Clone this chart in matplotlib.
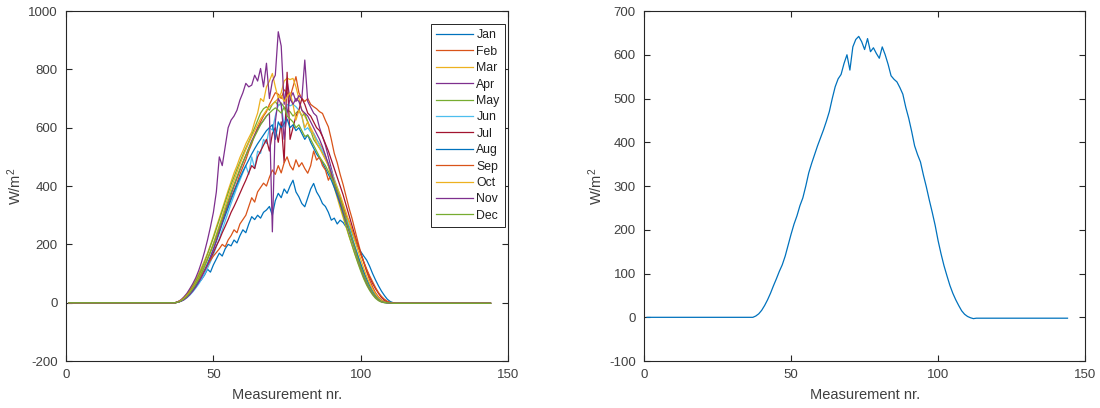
import numpy as np
import matplotlib
matplotlib.use("Agg")
import matplotlib.pyplot as plt

# Measurement index (10-minute samples over one day)
measurement = np.arange(1, 145)
day_start, day_end = 37, 112          # first / last daylight sample
months = ["Jan", "Feb", "Mar", "Apr", "May", "Jun",
          "Jul", "Aug", "Sep", "Oct", "Nov", "Dec"]

# Daylight irradiance per month, samples 37..112 (W/m^2)
jan = [0, 2, 6, 12, 20, 30, 42, 55, 68, 80,
       95, 115, 105, 130, 150, 170, 160, 185, 200, 195,
       215, 205, 230, 250, 240, 270, 295, 285, 300, 290,
       310, 318, 330, 300, 350, 375, 360, 390, 375, 400,
       420, 380, 363, 340, 329, 360, 390, 409, 380, 363,
       340, 330, 310, 283, 290, 270, 283, 275, 260, 262,
       240, 215, 192, 175, 160, 146, 125, 100, 78, 58,
       40, 25, 12, 4, 0, -2]
feb = [0, 3, 8, 16, 26, 40, 55, 72, 90, 110,
       130, 152, 175, 200, 225, 252, 280, 305, 332, 360,
       385, 410, 440, 465, 490, 520, 545, 575, 600, 620,
       640, 655, 680, 700, 720, 715, 700, 730, 720, 705,
       740, 775, 720, 700, 690, 700, 680, 672, 665, 655,
       649, 625, 603, 560, 512, 480, 440, 405, 365, 325,
       290, 250, 210, 172, 138, 106, 78, 54, 34, 20,
       10, 4, 1, -1, -2, -2]
mar = [0, 3, 9, 18, 30, 45, 62, 80, 100, 122,
       145, 170, 198, 228, 260, 290, 322, 355, 385, 415,
       445, 470, 498, 520, 545, 565, 585, 620, 650, 700,
       690, 740, 760, 786, 740, 700, 720, 760, 770, 765,
       769, 740, 700, 660, 640, 620, 600, 580, 560, 545,
       530, 505, 470, 430, 395, 360, 325, 292, 260, 228,
       198, 168, 140, 112, 86, 64, 45, 30, 18, 9,
       4, 1, 0, -1, -2, -2]
apr = [0, 4, 10, 20, 32, 48, 65, 85, 110, 140,
       175, 215, 260, 310, 380, 500, 470, 535, 600, 626,
       640, 660, 695, 720, 752, 740, 746, 780, 760, 803,
       740, 821, 700, 760, 780, 929, 880, 680, 760, 700,
       720, 690, 710, 700, 832, 690, 670, 650, 640, 600,
       570, 540, 500, 460, 420, 380, 345, 310, 280, 250,
       220, 190, 160, 130, 100, 75, 55, 38, 24, 14,
       7, 3, 0, -1, -2, -2]
may = [0, 3, 8, 16, 27, 40, 56, 74, 94, 116,
       140, 166, 194, 223, 253, 284, 315, 346, 376, 405,
       432, 458, 483, 507, 530, 552, 575, 600, 625, 650,
       665, 672, 660, 680, 690, 675, 685, 670, 660, 655,
       640, 650, 660, 640, 649, 620, 590, 560, 545, 530,
       515, 495, 470, 440, 405, 370, 335, 300, 265, 230,
       198, 166, 136, 108, 82, 60, 42, 27, 15, 7,
       2, 0, -1, -2, -2, -2]
jun = [0, 2, 5, 10, 17, 26, 37, 50, 64, 80,
       98, 118, 140, 165, 192, 220, 250, 280, 310, 340,
       368, 395, 420, 445, 470, 440, 500, 460, 520, 512,
       560, 546, 600, 592, 640, 678, 680, 603, 680, 675,
       680, 672, 660, 640, 592, 600, 585, 581, 560, 540,
       520, 500, 478, 452, 425, 396, 365, 332, 298, 262,
       228, 195, 162, 132, 104, 78, 56, 38, 23, 12,
       5, 1, 0, -1, -2, -2]
jul = [0, 2, 6, 12, 22, 34, 48, 62, 78, 95,
       112, 130, 150, 172, 195, 215, 240, 262, 285, 310,
       330, 352, 375, 398, 420, 445, 470, 460, 500, 520,
       540, 560, 520, 580, 600, 550, 620, 480, 790, 560,
       600, 640, 660, 700, 680, 650, 640, 620, 600, 590,
       570, 545, 520, 490, 460, 430, 400, 370, 335, 300,
       265, 230, 198, 168, 140, 112, 88, 66, 48, 32,
       18, 9, 3, 0, -1, -2]
aug = [0, 2, 6, 12, 20, 31, 44, 58, 74, 92,
       112, 134, 158, 184, 212, 240, 270, 298, 326, 354,
       380, 405, 428, 450, 470, 490, 510, 528, 545, 560,
       575, 590, 600, 610, 560, 620, 600, 615, 630, 600,
       610, 590, 600, 580, 560, 575, 550, 530, 510, 495,
       480, 460, 440, 420, 395, 368, 340, 310, 280, 250,
       220, 190, 160, 132, 106, 82, 60, 42, 27, 15,
       7, 2, 0, -1, -2, -2]
sep = [0, 3, 8, 15, 25, 38, 52, 66, 80, 95,
       110, 128, 145, 160, 172, 185, 200, 192, 215, 230,
       250, 240, 270, 285, 300, 330, 360, 345, 380, 395,
       410, 400, 430, 455, 440, 470, 445, 480, 500, 470,
       455, 490, 466, 480, 460, 444, 470, 520, 489, 500,
       470, 455, 420, 440, 410, 380, 360, 330, 300, 280,
       250, 225, 195, 165, 140, 115, 92, 72, 52, 35,
       22, 12, 5, 1, -1, -2]
oct_ = [0, 2, 7, 14, 24, 36, 50, 66, 84, 104,
        126, 150, 176, 204, 234, 265, 298, 330, 362, 392,
        420, 448, 475, 500, 525, 548, 570, 590, 610, 630,
        645, 660, 672, 680, 690, 700, 710, 690, 705, 720,
        680, 626, 660, 640, 600, 620, 590, 575, 548, 530,
        510, 490, 470, 445, 420, 395, 370, 340, 310, 278,
        245, 212, 180, 148, 118, 90, 66, 46, 30, 17,
        8, 3, 0, -1, -2, -2]
nov = [0, 2, 5, 10, 18, 28, 40, 54, 70, 88,
       108, 130, 155, 182, 212, 245, 278, 310, 342, 372,
       400, 428, 455, 480, 505, 530, 555, 575, 595, 612,
       625, 640, 650, 243, 620, 700, 680, 560, 650, 700,
       680, 700, 690, 660, 650, 640, 620, 600, 580, 560,
       535, 505, 475, 445, 410, 380, 345, 312, 280, 248,
       215, 182, 150, 120, 92, 68, 48, 32, 20, 10,
       4, 1, 0, -1, -2, -2]
dec = [0, 2, 6, 13, 22, 34, 48, 64, 82, 102,
       124, 148, 174, 200, 228, 258, 288, 318, 348, 378,
       405, 432, 458, 482, 505, 528, 550, 570, 590, 610,
       625, 640, 650, 660, 668, 660, 650, 670, 640, 630,
       620, 600, 610, 590, 570, 575, 560, 540, 520, 500,
       485, 470, 450, 430, 410, 385, 355, 322, 288, 252,
       218, 185, 152, 122, 94, 70, 50, 33, 20, 10,
       4, 1, 0, -1, -2, -2]

# Average daylight profile, samples 37..112 (W/m^2)
average = [0, 3, 8, 16, 27, 40, 55, 72, 88, 105,
           120, 140, 165, 190, 213, 232, 255, 273, 300, 330,
           352, 372, 392, 410, 428, 448, 470, 500, 527, 545,
           555, 580, 600, 565, 618, 635, 642, 630, 612, 637,
           607, 616, 603, 592, 618, 600, 578, 552, 544, 538,
           525, 510, 480, 455, 425, 392, 372, 355, 325, 298,
           268, 240, 210, 175, 145, 118, 95, 73, 55, 40,
           27, 15, 7, 2, -1, -3]

monthly = [jan, feb, mar, apr, may, jun, jul, aug, sep, oct_, nov, dec]


def full_day(daylight):
    """Place a daylight profile into the 144-sample day (night = 0, trailing ~ -2)."""
    night_before = np.zeros(day_start - 1)
    night_after = np.full(144 - day_end, -2.0)
    return np.concatenate([night_before, np.asarray(daylight, float), night_after])


matlab_colors = ["#0072BD", "#D95319", "#EDB120", "#7E2F8E",
                 "#77AC30", "#4DBEEE", "#A2142F"]
axis_color = "#262626"
label_color = "#404040"

plt.rcParams["font.family"] = ["Liberation Sans", "DejaVu Sans"]
plt.rcParams["mathtext.default"] = "regular"
plt.rcParams["axes.unicode_minus"] = False

fig = plt.figure(figsize=(11.0, 4.08), dpi=100)
ax1 = fig.add_axes([0.060, 0.115, 0.402, 0.858])
ax2 = fig.add_axes([0.5855, 0.115, 0.401, 0.858])


def style_axes(ax):
    for sp in ax.spines.values():
        sp.set_color(axis_color)
        sp.set_linewidth(0.8)
    ax.tick_params(direction="in", length=4, width=0.8, colors=axis_color,
                   labelcolor=label_color, labelsize=9.5,
                   top=True, right=True, pad=6)
    ax.set_xlabel("Measurement nr.", fontsize=10.5, color=label_color, labelpad=5)
    ax.set_ylabel("W/m$^2$", fontsize=10.5, color=label_color, labelpad=3)


for i, (name, vals) in enumerate(zip(months, monthly)):
    ax1.plot(measurement, full_day(vals), color=matlab_colors[i % 7],
             lw=0.9, label=name)
ax1.set_xlim(0, 150)
ax1.set_ylim(-200, 1000)
ax1.set_xticks([0, 50, 100, 150])
ax1.set_yticks(np.arange(-200, 1001, 200))
style_axes(ax1)
leg = ax1.legend(loc="upper right", bbox_to_anchor=(1.0, 0.972),
                 fontsize=8.8, frameon=True, fancybox=False, framealpha=1,
                 edgecolor=axis_color, handlelength=3.0, handletextpad=0.3,
                 labelspacing=0.36, borderpad=0.45, borderaxespad=0.25)
leg.get_frame().set_linewidth(0.7)
for t in leg.get_texts():
    t.set_color("#202020")

ax2.plot(measurement, full_day(average), color=matlab_colors[0], lw=0.9)
ax2.set_xlim(0, 150)
ax2.set_ylim(-100, 700)
ax2.set_xticks([0, 50, 100, 150])
ax2.set_yticks(np.arange(-100, 701, 100))
style_axes(ax2)

fig.savefig("out.png", dpi=100)
